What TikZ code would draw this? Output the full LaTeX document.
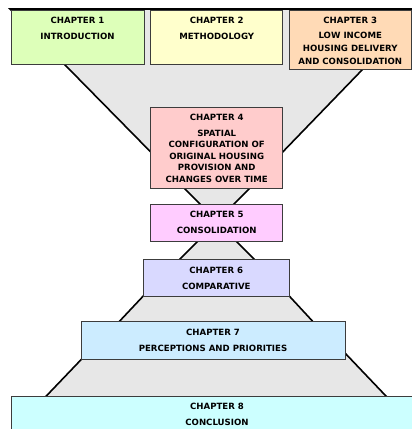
\documentclass[tikz,border=0pt]{standalone}
\usepackage{fontspec}
\setmainfont{DejaVu Sans}
\definecolor{funnel}{RGB}{231,231,231}
\definecolor{edge}{RGB}{60,60,60}
\definecolor{colA}{RGB}{221,255,185}
\definecolor{colB}{RGB}{255,255,204}
\definecolor{colC}{RGB}{255,218,182}
\definecolor{colD}{RGB}{255,204,204}
\definecolor{colE}{RGB}{255,204,255}
\definecolor{colF}{RGB}{217,217,255}
\definecolor{colG}{RGB}{204,236,255}
\definecolor{colH}{RGB}{204,255,255}
\tikzset{
  chbox/.style={draw=edge, line width=0.9pt, inner sep=0pt, outer sep=0pt, anchor=north west},
  ln/.style={font=\fontsize{8.6}{10}\selectfont\bfseries, inner sep=0pt, anchor=center, text height=6.27pt, text depth=0pt},
  funnelshape/.style={fill=funnel, draw=black, line width=1.6pt, line join=miter}
}
\begin{document}
\begin{tikzpicture}[x=1pt, y=-1pt]
\useasboundingbox (0,0) rectangle (412,429);
\clip (0,0) rectangle (412,429);
% funnels
\draw[funnelshape] (10,9) -- (421,9) -- (282.7,152) -- (150.7,152) -- cycle;
\draw[funnelshape] (176,180) -- (258,180) -- (226,212) -- (208,212) -- cycle;
\draw[funnelshape] (205,234) -- (229,234) -- (261,266) -- (173,266) -- cycle;
\draw[funnelshape] (148.9,290) -- (283.7,290) -- (320.7,330) -- (111.3,330) -- cycle;
\draw[funnelshape] (90.3,350) -- (342.1,350) -- (394.5,405) -- (37.7,405) -- cycle;
% boxes
\node[chbox, fill=colA, minimum width=133pt, minimum height=54pt] (c1) at (11,10) {};
\node[chbox, fill=colB, minimum width=132pt, minimum height=54pt] (c2) at (150.7,10) {};
\node[chbox, fill=colC, minimum width=122.5pt, minimum height=59pt] (c3) at (289,10) {};
\node[chbox, fill=colD, minimum width=132pt, minimum height=81pt] (c4) at (150.7,107.3) {};
\node[chbox, fill=colE, minimum width=132pt, minimum height=37.7pt] (c5) at (150.7,204) {};
\node[chbox, fill=colF, minimum width=146pt, minimum height=37pt] (c6) at (143.3,259.3) {};
\node[chbox, fill=colG, minimum width=264pt, minimum height=37.6pt] (c7) at (81,321.7) {};
\node[chbox, fill=colH, minimum width=414pt, minimum height=50pt] (c8) at (11,396) {};
% texts
\node[ln] (c1a) at ([yshift=-10.7pt]c1.north) {CHAPTER 1};
\node[ln] (c1b) at ([yshift=-26.7pt]c1.north) {INTRODUCTION};
\node[ln] (c2a) at ([yshift=-10.7pt]c2.north) {CHAPTER 2};
\node[ln] (c2b) at ([yshift=-26.7pt]c2.north) {METHODOLOGY};
\node[ln] (c3a) at ([yshift=-10.7pt]c3.north) {CHAPTER 3};
\node[ln] (c3b) at ([yshift=-25.5pt]c3.north) {LOW INCOME};
\node[ln] (c3c) at ([yshift=-38.7pt]c3.north) {HOUSING DELIVERY};
\node[ln] (c3d) at ([yshift=-51.5pt]c3.north) {AND CONSOLIDATION};
\node[ln] (c4a) at ([yshift=-10pt]c4.north) {CHAPTER 4};
\node[ln] (c4b) at ([yshift=-26pt]c4.north) {SPATIAL};
\node[ln] (c4c) at ([yshift=-37.5pt]c4.north) {CONFIGURATION OF};
\node[ln] (c4d) at ([yshift=-49pt]c4.north) {ORIGINAL HOUSING};
\node[ln] (c4e) at ([yshift=-60.5pt]c4.north) {PROVISION AND};
\node[ln] (c4f) at ([yshift=-72pt]c4.north) {CHANGES OVER TIME};
\node[ln] (c5a) at ([yshift=-10.3pt]c5.north) {CHAPTER 5};
\node[ln] (c5b) at ([yshift=-26.7pt]c5.north) {CONSOLIDATION};
\node[ln] (c6a) at ([yshift=-10.7pt]c6.north) {CHAPTER 6};
\node[ln] (c6b) at ([yshift=-26.7pt]c6.north) {COMPARATIVE};
\node[ln] (c7a) at ([yshift=-10.6pt]c7.north) {CHAPTER 7};
\node[ln] (c7b) at ([yshift=-26.6pt]c7.north) {PERCEPTIONS AND PRIORITIES};
\node[ln] (c8a) at ([xshift=206pt,yshift=-10.5pt]c8.north west) {CHAPTER 8};
\node[ln] (c8b) at ([xshift=206pt,yshift=-26.5pt]c8.north west) {CONCLUSION};
\end{tikzpicture}
\end{document}
